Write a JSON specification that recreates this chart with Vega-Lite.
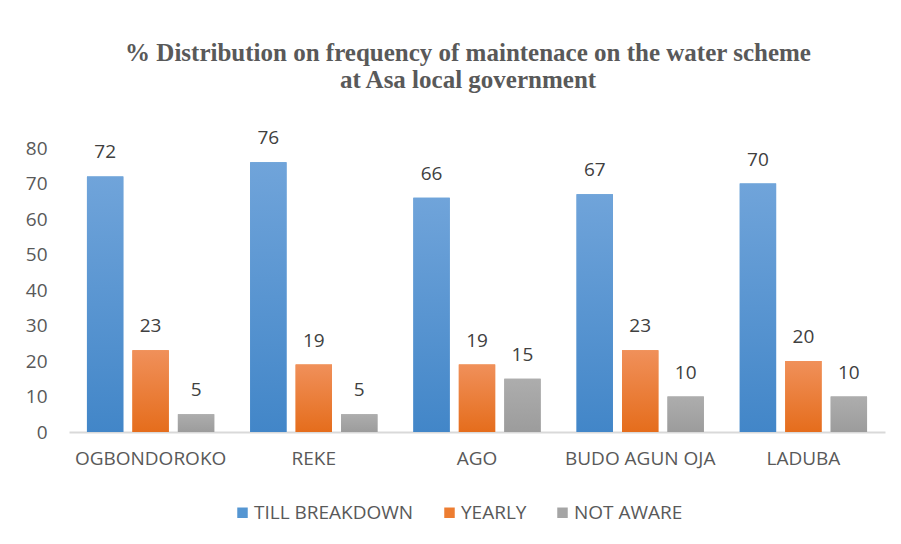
{
  "$schema": "https://vega.github.io/schema/vega-lite/v6.json",
  "width": 816,
  "height": 284,
  "autosize": {"type": "none"},
  "padding": {"left": 69, "top": 148, "right": 16, "bottom": 112},
  "background": "white",
  "view": {"stroke": null},
  "title": {
    "text": ["% Distribution on frequency of maintenace on the water scheme", "at Asa local government"],
    "font": "Liberation Serif",
    "fontSize": 25,
    "fontWeight": "bold",
    "color": "#595959",
    "lineHeight": 27,
    "anchor": "middle",
    "dx": -9,
    "offset": 36
  },
  "data": {
    "values": [
      {"site": "OGBONDOROKO", "series": "TILL BREAKDOWN", "value": 72},
      {"site": "OGBONDOROKO", "series": "YEARLY", "value": 23},
      {"site": "OGBONDOROKO", "series": "NOT AWARE", "value": 5},
      {"site": "REKE", "series": "TILL BREAKDOWN", "value": 76},
      {"site": "REKE", "series": "YEARLY", "value": 19},
      {"site": "REKE", "series": "NOT AWARE", "value": 5},
      {"site": "AGO", "series": "TILL BREAKDOWN", "value": 66},
      {"site": "AGO", "series": "YEARLY", "value": 19},
      {"site": "AGO", "series": "NOT AWARE", "value": 15},
      {"site": "BUDO AGUN OJA", "series": "TILL BREAKDOWN", "value": 67},
      {"site": "BUDO AGUN OJA", "series": "YEARLY", "value": 23},
      {"site": "BUDO AGUN OJA", "series": "NOT AWARE", "value": 10},
      {"site": "LADUBA", "series": "TILL BREAKDOWN", "value": 70},
      {"site": "LADUBA", "series": "YEARLY", "value": 20},
      {"site": "LADUBA", "series": "NOT AWARE", "value": 10}
    ]
  },
  "encoding": {
    "x": {
      "field": "site",
      "type": "nominal",
      "sort": null,
      "scale": {"paddingInner": 0.22, "paddingOuter": 0.11},
      "axis": {
        "title": null,
        "labelAngle": 0,
        "labelFont": "Open Sans",
        "labelFontSize": 19,
        "labelColor": "#595959",
        "labelPadding": 17,
        "labelLimit": 300,
        "ticks": false,
        "domainColor": "#D9D9D9",
        "domainWidth": 2
      }
    },
    "xOffset": {
      "field": "series",
      "type": "nominal",
      "sort": ["TILL BREAKDOWN", "YEARLY", "NOT AWARE"],
      "scale": {"domain": ["TILL BREAKDOWN", "YEARLY", "NOT AWARE"], "paddingInner": 0.2, "paddingOuter": 0}
    },
    "y": {
      "field": "value",
      "type": "quantitative",
      "scale": {"domain": [0, 80]},
      "axis": {
        "title": null,
        "values": [0, 10, 20, 30, 40, 50, 60, 70, 80],
        "grid": false,
        "ticks": false,
        "domain": false,
        "labelFont": "Open Sans",
        "labelFontSize": 19,
        "labelColor": "#595959",
        "labelPadding": 22
      }
    }
  },
  "layer": [
    {
      "mark": {"type": "bar"},
      "encoding": {
        "color": {
          "field": "series",
          "type": "nominal",
          "sort": ["TILL BREAKDOWN", "YEARLY", "NOT AWARE"],
          "scale": {
            "domain": ["TILL BREAKDOWN", "YEARLY", "NOT AWARE"],
            "range": ["#5596D2", "#ED7D31", "#A5A5A5"]
          },
          "legend": {
            "title": null,
            "orient": "none",
            "legendX": 164,
            "legendY": 355,
            "direction": "horizontal",
            "symbolType": "square",
            "symbolSize": 110,
            "symbolStrokeWidth": 0,
            "labelFont": "Open Sans",
            "labelFontSize": 19,
            "labelColor": "#595959",
            "labelOffset": 2,
            "labelLimit": 300,
            "columnPadding": 26
          }
        }
      }
    },
    {
      "transform": [{"filter": "datum.series === 'TILL BREAKDOWN'"}],
      "mark": {"type": "bar", "color": {"gradient": "linear", "x1": 0, "y1": 0, "x2": 0, "y2": 1, "stops": [{"offset": 0, "color": "#70A4DA"}, {"offset": 1, "color": "#4286C8"}]}},
      "encoding": {}
    },
    {
      "transform": [{"filter": "datum.series === 'YEARLY'"}],
      "mark": {"type": "bar", "color": {"gradient": "linear", "x1": 0, "y1": 0, "x2": 0, "y2": 1, "stops": [{"offset": 0, "color": "#F0905A"}, {"offset": 1, "color": "#E56D1C"}]}},
      "encoding": {}
    },
    {
      "transform": [{"filter": "datum.series === 'NOT AWARE'"}],
      "mark": {"type": "bar", "color": {"gradient": "linear", "x1": 0, "y1": 0, "x2": 0, "y2": 1, "stops": [{"offset": 0, "color": "#ADADAD"}, {"offset": 1, "color": "#9C9C9C"}]}},
      "encoding": {}
    },
    {
      "mark": {"type": "text", "baseline": "alphabetic", "dy": -18, "font": "Open Sans", "fontSize": 19, "color": "#404040"},
      "encoding": {
        "text": {"field": "value", "type": "quantitative"}
      }
    }
  ]
}
